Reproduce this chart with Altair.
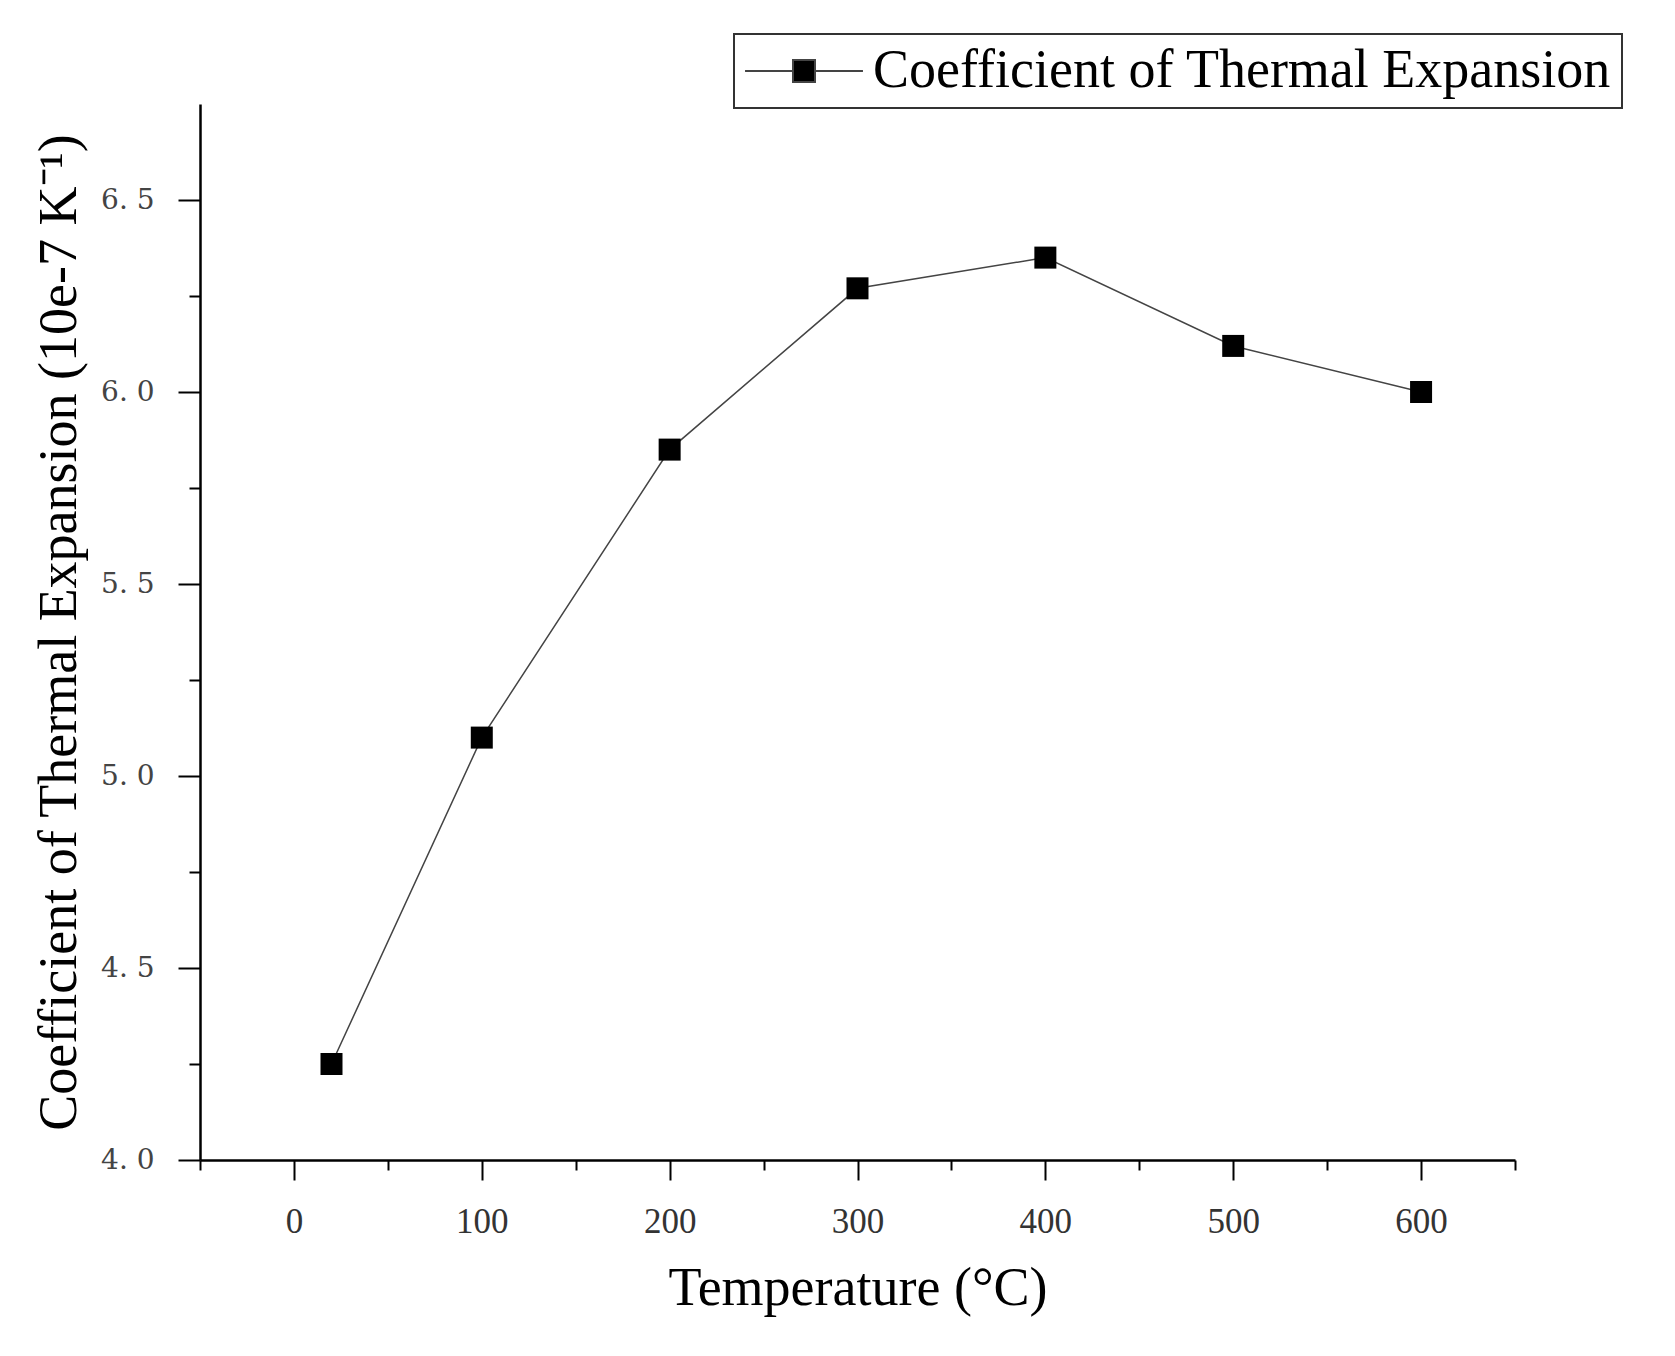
import altair as alt
import pandas as pd

temps = [20, 100, 200, 300, 400, 500, 600]
cte = [4.25, 5.10, 5.85, 6.27, 6.35, 6.12, 6.00]
series_name = "Coefficient of Thermal Expansion"

x_ticks = [-50, 0, 50, 100, 150, 200, 250, 300, 350, 400, 450, 500, 550, 600, 650]
y_ticks = [4.0, 4.25, 4.5, 4.75, 5.0, 5.25, 5.5, 5.75, 6.0, 6.25, 6.5]

df = pd.DataFrame({"T": temps, "CTE": cte, "series": [series_name] * len(temps)})

serif = "Liberation Serif"

x_enc = alt.X(
    "T:Q",
    scale=alt.Scale(domain=[-50, 650], nice=False, zero=False),
    axis=alt.Axis(
        title="Temperature (°C)",
        values=x_ticks,
        labelExpr="datum.value % 100 == 0 ? datum.label : ''",
        tickSize={"condition": {"test": "datum.value % 100 == 0", "value": 20}, "value": 10},
        grid=False,
        labelFont=serif, labelFontSize=35, labelColor="#333", labelPadding=24,
        titleFont=serif, titleFontSize=54, titleFontWeight="normal", titleColor="black",
        titlePadding=22,
        domainColor="black", domainWidth=2.5, tickColor="black", tickWidth=2,
        labelFlush=False, labelOverlap=False,
    ),
)

y_enc = alt.Y(
    "CTE:Q",
    scale=alt.Scale(domain=[4.0, 6.75], nice=False, zero=False),
    axis=alt.Axis(
        title="Coefficient of Thermal Expansion (10e-7 K⁻¹)",
        values=y_ticks,
        labelExpr="(datum.value * 2) % 1 == 0 ? replace(format(datum.value, '.1f'), '.', '. ') : ''",
        tickSize={"condition": {"test": "(datum.value * 2) % 1 == 0", "value": 22}, "value": 11},
        grid=False,
        labelFont="DejaVu Serif", labelFontSize=28, labelColor="#444", labelPadding=24,
        titleFont=serif, titleFontSize=54, titleFontWeight="normal", titleColor="black",
        titlePadding=14,
        domainColor="black", domainWidth=2.5, tickColor="black", tickWidth=2,
        labelFlush=False, labelOverlap=False,
    ),
)

line = alt.Chart(df).mark_line(color="#444", strokeWidth=1.5).encode(x=x_enc, y=y_enc)

points = alt.Chart(df).mark_square(size=484, opacity=1, filled=True).encode(
    x="T:Q",
    y="CTE:Q",
    color=alt.Color(
        "series:N",
        scale=alt.Scale(range=["black"]),
        legend=alt.Legend(
            title=None,
            orient="none",
            legendX=534,
            legendY=-70,
            symbolType="M-2.68,0H-0.5M0.5,0H2.68M-0.5,-0.5H0.5V0.5H-0.5Z",
            symbolSize=1936,
            symbolOffset=33,
            symbolStrokeColor="#444",
            symbolStrokeWidth=2,
            symbolFillColor="black",
            symbolOpacity=1,
            labelFont=serif,
            labelFontSize=54,
            labelColor="black",
            labelOffset=42,
            labelLimit=2000,
            padding=10,
            strokeColor="#333",
        ),
    ),
)

chart = (
    alt.layer(line, points)
    .properties(
        width=1315,
        height=1056,
        background="white",
        autosize=alt.AutoSizeParams(type="none"),
        padding={"left": 200, "top": 104, "right": 160, "bottom": 196},
    )
    .configure_view(stroke="transparent", strokeWidth=0)
    .configure_legend(strokeWidth=2)
)

chart.save("out.html", embed_options={"renderer": "svg", "actions": False})
